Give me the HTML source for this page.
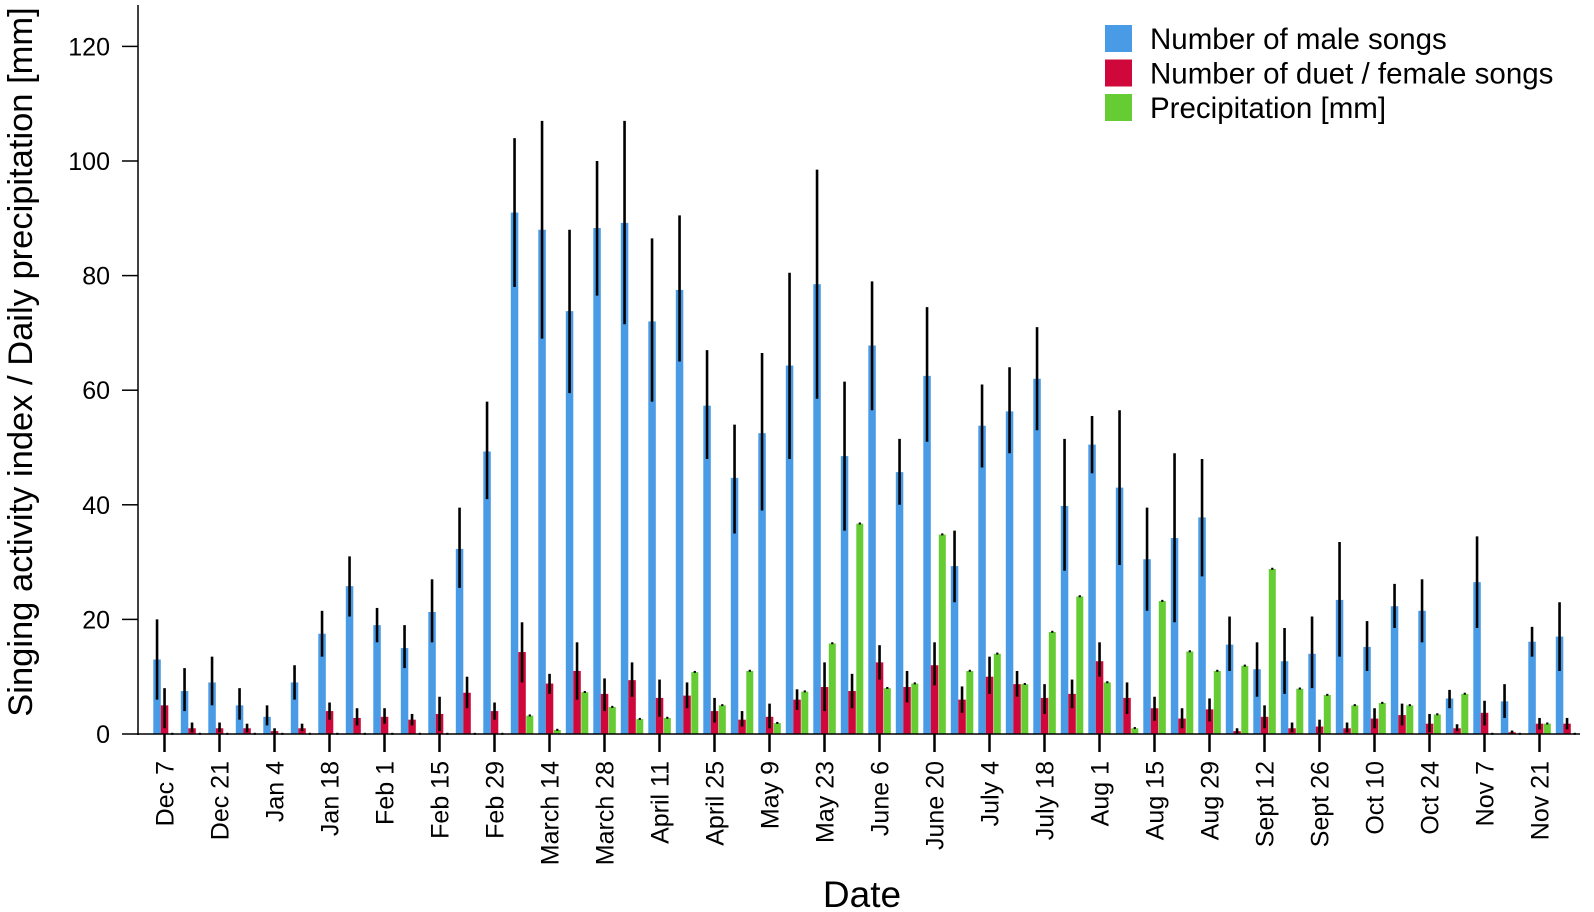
<!DOCTYPE html>
<html><head><meta charset="utf-8"><style>
html,body{margin:0;padding:0;background:#fff;}
svg{display:block;font-family:"Liberation Sans",Arial,sans-serif;}
</style></head><body>
<svg id="c" width="1594" height="912" viewBox="0 0 1594 912" xmlns="http://www.w3.org/2000/svg"></svg>
<script>
const d=[
[13,6,20,5,1,8,0],[7.5,4,11.5,1,0.3,2,0],[9,5,13.5,1,0.3,2,0],[5,2.5,8,1,0.3,1.8,0],
[3,1.5,5,0.5,0.1,1,0],[9,6,12,1,0.5,1.8,0],[17.5,13.5,21.5,4,2.5,5.5,0],[25.8,20.5,31,2.8,1.5,4.5,0],
[19,16,22,3,1.8,4.5,0],[15,11.5,19,2.5,1.5,3.5,0],[21.3,16,27,3.5,0.5,6.5,0],[32.3,25.5,39.5,7.2,4.5,10,0],
[49.3,41,58,4,2.5,5.5,0],[91,78,104,14.3,9,19.5,3.2],[88,69,107,8.8,7,10.5,0.7],[73.8,59.5,88,11,6,16,7.3],
[88.3,76.5,100,7,4,9.7,4.7],[89.2,71.5,107,9.4,6.5,12.5,2.6],[72,58,86.5,6.3,3,9.5,2.8],[77.5,65,90.5,6.7,4.5,9,10.8],
[57.3,48,67,4,2,6.3,5],[44.7,35,54,2.5,1.3,4,11],[52.5,39,66.5,3,1,5.3,1.9],[64.3,48,80.5,6,4.2,7.8,7.4],
[78.5,58.5,98.5,8.2,4,12.5,15.8],[48.5,35.5,61.5,7.5,4.5,10.5,36.7],[67.8,56.5,79,12.5,9.5,15.5,8],[45.7,40,51.5,8.2,5.5,11,8.8],
[62.5,51,74.5,12,8.5,16,34.8],[29.3,23,35.5,6,3.7,8.3,11],[53.8,46.5,61,10,7,13.5,14],[56.3,49,64,8.7,6.5,11,8.7],
[62,53,71,6.3,3.5,8.7,17.8],[39.8,28.5,51.5,7,4.5,9.5,24],[50.5,45.5,55.5,12.7,10,16,9],[43,29.5,56.5,6.3,3.5,9,1],
[30.5,21.5,39.5,4.5,2.3,6.5,23.2],[34.2,19.5,49,2.7,1,4.5,14.4],[37.8,27.5,48,4.3,2.2,6.2,11],[15.6,11,20.5,0.5,0.1,1,11.9],
[11.3,6.5,16,3,1,5,28.8],[12.7,7,18.5,1,0.3,2,7.9],[14,8,20.5,1.3,0.2,2.5,6.8],[23.4,13.5,33.5,1,0.3,2,5],
[15.2,11,19.7,2.7,1,4.5,5.4],[22.3,18.5,26.2,3.3,1.5,5.3,5],[21.5,16,27,1.8,0.3,3.5,3.4],[6.2,4.5,7.7,1,0.5,1.7,7],
[26.5,18.5,34.5,3.7,1.5,5.8,0],[5.7,2.8,8.7,0.3,0.1,0.6,0],[16.1,13.5,18.7,1.8,0.8,2.8,1.8],[17,11,23,1.8,0.8,2.8,0]];
const labels=["Dec 7","Dec 21","Jan 4","Jan 18","Feb 1","Feb 15","Feb 29","March 14","March 28","April 11","April 25","May 9","May 23","June 6","June 20","July 4","July 18","Aug 1","Aug 15","Aug 29","Sept 12","Sept 26","Oct 10","Oct 24","Nov 7","Nov 21"];
const Y0=734,S=5.73,y=v=>Y0-v*S;
let s='';
d.forEach((r,i)=>{
 const x=153.3+i*27.5;
 s+=`<rect x="${x}" y="${y(r[0])}" width="7.5" height="${r[0]*S}" fill="#4a9be6"/>`;
 s+=`<rect x="${x+7.5}" y="${y(r[3])}" width="7.5" height="${r[3]*S}" fill="#d0073a"/>`;
 if(r[6]>0)s+=`<rect x="${x+15.5}" y="${y(r[6])}" width="7" height="${r[6]*S}" fill="#66cc33"/>`;
 s+=`<line x1="${x+3.75}" x2="${x+3.75}" y1="${y(r[1])}" y2="${y(r[2])}" stroke="#000" stroke-width="2.6"/>`;
 s+=`<line x1="${x+11.25}" x2="${x+11.25}" y1="${y(r[4])}" y2="${y(r[5])}" stroke="#000" stroke-width="2.6"/>`;
 s+=`<line x1="${x+19}" x2="${x+19}" y1="${y(r[6])-1.2}" y2="${y(r[6])+0.8}" stroke="#000" stroke-width="2.2"/>`;
});
s+=`<line x1="138" y1="5" x2="138" y2="735" stroke="#000" stroke-width="1.5"/>`;
s+=`<line x1="137" y1="734" x2="1580" y2="734" stroke="#000" stroke-width="1.5"/>`;
for(let v=0;v<=120;v+=20){s+=`<line x1="122" x2="138" y1="${y(v)}" y2="${y(v)}" stroke="#000" stroke-width="1.5"/>`;
 s+=`<text x="110" y="${y(v)+9}" font-size="25" text-anchor="end">${v}</text>`;}
labels.forEach((l,k)=>{const x=164.5+k*55;
 s+=`<line x1="${x}" x2="${x}" y1="734" y2="752" stroke="#000" stroke-width="2.5"/>`;
 s+=`<text transform="translate(${x+9},761) rotate(-90)" font-size="25" text-anchor="end">${l}</text>`;});
s+=`<text transform="translate(32,362) rotate(-90)" font-size="34.5" text-anchor="middle">Singing activity index / Daily precipitation [mm]</text>`;
s+=`<text x="862" y="907" font-size="37" text-anchor="middle">Date</text>`;
[["#4a9be6","Number of male songs"],["#d0073a","Number of duet / female songs"],["#66cc33","Precipitation [mm]"]].forEach((e,k)=>{
 const yy=25+k*34.5;
 s+=`<rect x="1105" y="${yy}" width="27" height="27" fill="${e[0]}"/>`;
 s+=`<text x="1150" y="${yy+24}" font-size="29.5">${e[1]}</text>`;});
document.getElementById('c').innerHTML=s;
</script>
</body></html>
